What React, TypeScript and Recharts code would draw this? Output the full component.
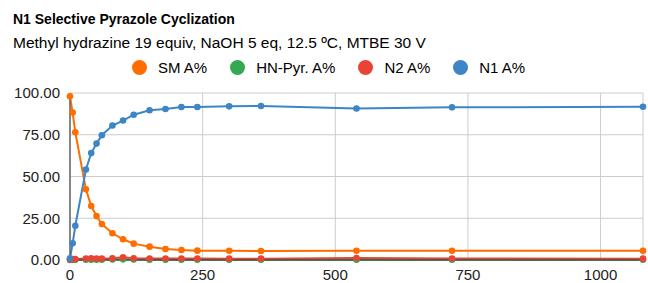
import { CartesianGrid, Line, LineChart, XAxis, YAxis } from "recharts";

// reaction time (min)
const times = [0, 5, 10, 30, 40, 50, 60, 80, 100, 120, 150, 180, 210, 240, 300, 360, 540, 720, 1080];

const smArea = [98.0, 88.3, 76.5, 42.3, 32.3, 26.3, 21.5, 16.0, 12.4, 9.8, 8.0, 6.6, 6.0, 5.6, 5.5, 5.4, 5.5, 5.5, 5.5];
const hnPyrArea = [0.0, 0.1, 0.1, 0.2, 0.2, 0.2, 0.2, 0.3, 0.4, 0.3, 0.2, 0.2, 0.2, 0.2, 0.2, 0.2, 0.2, 0.2, 0.2];
const n2Area = [0.3, 0.5, 0.6, 0.9, 1.0, 0.9, 0.8, 1.0, 1.6, 1.0, 0.9, 0.9, 0.9, 0.9, 0.8, 0.8, 1.2, 0.9, 0.8];
const n1Area = [1.0, 10.0, 20.5, 54.2, 64.0, 69.7, 74.7, 80.5, 83.5, 87.0, 89.7, 90.4, 91.6, 91.6, 92.0, 92.2, 90.7, 91.4, 91.8];

const xTicks = [0, 250, 500, 750, 1000];
const yTicks = [0, 25, 50, 75, 100];

const series = [
  { key: "sm", name: "SM A%", color: "#ff6d00", values: smArea },
  { key: "hn", name: "HN-Pyr. A%", color: "#34a853", values: hnPyrArea },
  { key: "n2", name: "N2 A%", color: "#ea4335", values: n2Area },
  { key: "n1", name: "N1 A%", color: "#3d85c6", values: n1Area },
];

const data = times.map((t, i) => {
  const row: Record<string, number> = { t };
  series.forEach((s) => {
    row[s.key] = s.values[i];
  });
  return row;
});

const FONT = "'Liberation Sans', Arial, sans-serif";
const tickStyle = { fontSize: 15, fill: "#222", fontFamily: FONT };

export default function App() {
  return (
    <div
      style={{
        position: "absolute",
        left: 0,
        top: 0,
        width: 648,
        height: 283,
        background: "#fff",
        fontFamily: FONT,
        color: "#000",
      }}
    >
      <div
        style={{
          position: "absolute",
          left: 13,
          top: 11,
          fontSize: 14,
          lineHeight: "16px",
          fontWeight: "bold",
          whiteSpace: "nowrap",
        }}
      >
        N1 Selective Pyrazole Cyclization
      </div>
      <div
        style={{
          position: "absolute",
          left: 13,
          top: 34,
          fontSize: 15.5,
          lineHeight: "17px",
          whiteSpace: "nowrap",
        }}
      >
        Methyl hydrazine 19 equiv, NaOH 5 eq, 12.5 ºC, MTBE 30 V
      </div>
      <div
        style={{
          position: "absolute",
          left: 132,
          top: 59,
          display: "flex",
          alignItems: "center",
          fontSize: 15,
          lineHeight: "17px",
          whiteSpace: "nowrap",
        }}
      >
        {series.map((s) => (
          <div
            key={s.key}
            style={{ display: "flex", alignItems: "center", marginRight: 23 }}
          >
            <span
              style={{
                width: 15,
                height: 15,
                borderRadius: "50%",
                background: s.color,
                marginRight: 11,
              }}
            />
            <span>{s.name}</span>
          </div>
        ))}
      </div>
      <LineChart
        data={data}
        height={283}
        margin={{ top: 93, right: 5, bottom: 0, left: 0 }}
        style={{ position: "absolute", left: 0, top: 0 }}
        width={648}
      >
        <CartesianGrid stroke="#cccccc" />
        <XAxis
          axisLine={{ stroke: "#333", strokeWidth: 1 }}
          dataKey="t"
          domain={[0, 1080]}
          height={23}
          tick={tickStyle}
          tickLine={false}
          tickMargin={3}
          ticks={xTicks}
          type="number"
        />
        <YAxis
          axisLine={{ stroke: "#666", strokeWidth: 1.5 }}
          domain={[0, 100]}
          tick={tickStyle}
          tickFormatter={(v: number) => v.toFixed(2)}
          tickLine={false}
          tickMargin={4}
          ticks={yTicks}
          type="number"
          width={70}
        />
        {series.map((s) => (
          <Line
            dataKey={s.key}
            dot={{ r: 3.3, fill: s.color, stroke: s.color, strokeWidth: 0 }}
            isAnimationActive={false}
            key={s.key}
            name={s.name}
            stroke={s.color}
            strokeWidth={2}
            type="linear"
          />
        ))}
      </LineChart>
    </div>
  );
}
